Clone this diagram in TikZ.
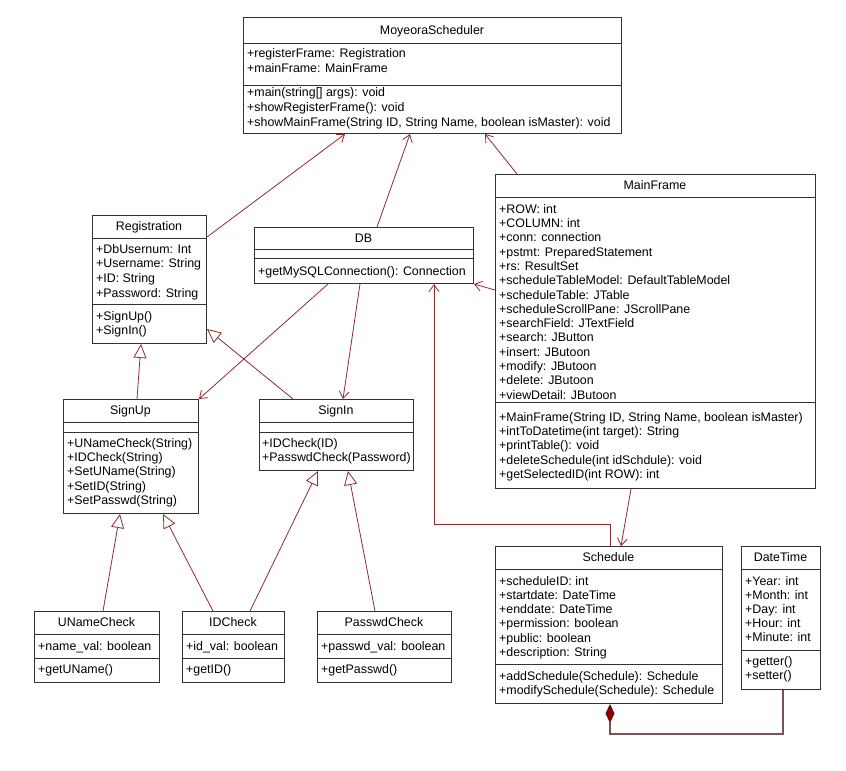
\documentclass[tikz,border=0pt]{standalone}
\usepackage{fontspec}
\setmainfont{Liberation Sans}
\usetikzlibrary{arrows.meta}

\definecolor{umlline}{RGB}{140,45,45}
\definecolor{umlcomp}{RGB}{120,85,85}
\definecolor{umldiam}{RGB}{130,0,0}

\begin{document}
\begin{tikzpicture}[x=1pt,y=-1pt,
  classbox/.style={draw=black!80, line width=1pt, rectangle, inner sep=0pt, anchor=north west},
  sepline/.style={draw=black!80, line width=1pt},
  row/.style={anchor=west, inner sep=0pt, text height=10pt, text depth=1.5pt, font=\fontsize{12.4}{14}\selectfont},
  title/.style={row, anchor=center},
  assoc/.style={draw=umlline, line width=0.8pt, -{Straight Barb[length=7pt,width=10pt]}},
  gen/.style={draw=umlline, line width=0.8pt, -{Triangle[open, fill=white, length=14pt, width=13pt]}},
  comp/.style={draw=umlcomp, line width=1.2pt, -{Diamond[color=umldiam, fill=umldiam, length=19pt, width=9pt]}}
]
  \fill[white] (0,0) rectangle (846,771);
  \useasboundingbox (0,0) rectangle (846,771);

  % MoyeoraScheduler
  \node[classbox, minimum width=378pt, minimum height=116pt] (ms) at (243,17) {};
  \draw[sepline] (243,43) -- (621,43);
  \draw[sepline] (243,85) -- (621,85);
  \node[title] (ms-t) at (432,30) {MoyeoraScheduler};
  \foreach \t [count=\i from 0] in {+registerFrame: Registration, +mainFrame: MainFrame}
    \node[row] (ms-a\i) at (247,53+15*\i) {\t};
  \foreach \t [count=\i from 0] in {+main(string[] args): void, +showRegisterFrame(): void,
      {+showMainFrame(String ID, String Name, boolean isMaster): void}}
    \node[row] (ms-m\i) at (247,92+15*\i) {\t};

  % Registration
  \node[classbox, minimum width=114pt, minimum height=128pt] (reg) at (92,215) {};
  \draw[sepline] (92,238) -- (206,238);
  \draw[sepline] (92,304) -- (206,304);
  \node[title] (reg-t) at (149,226.5) {Registration};
  \foreach \t [count=\i from 0] in {+DbUsernum: Int, +Username: String, +ID: String, +Password: String}
    \node[row] (reg-a\i) at (96,249+14.7*\i) {\t};
  \foreach \t [count=\i from 0] in {+SignUp(), +SignIn()}
    \node[row] (reg-m\i) at (96,316+14.5*\i) {\t};

  % DB
  \node[classbox, minimum width=219pt, minimum height=56pt] (db) at (254,227) {};
  \draw[sepline] (254,249) -- (473,249);
  \draw[sepline] (254,258) -- (473,258);
  \node[title] (db-t) at (363.5,238) {DB};
  \node[row] (db-m0) at (258,271) {+getMySQLConnection(): Connection};

  % MainFrame
  \node[classbox, minimum width=320pt, minimum height=314pt] (mf) at (495,174) {};
  \draw[sepline] (495,197) -- (815,197);
  \draw[sepline] (495,402) -- (815,402);
  \node[title] (mf-t) at (655,185.5) {MainFrame};
  \foreach \t [count=\i from 0] in {+ROW: int, +COLUMN: int, +conn: connection,
      +pstmt: PreparedStatement, +rs: ResultSet, +scheduleTableModel: DefaultTableModel,
      +scheduleTable: JTable, +scheduleScrollPane: JScrollPane, +searchField: JTextField,
      +search: JButton, +insert: JButoon, +modify: JButoon, +delete: JButoon, +viewDetail: JButoon}
    \node[row] (mf-a\i) at (499,209+14.3*\i) {\t};
  \foreach \t [count=\i from 0] in {{+MainFrame(String ID, String Name, boolean isMaster)},
      +intToDatetime(int target): String, +printTable(): void,
      +deleteSchedule(int idSchdule): void, +getSelectedID(int ROW): int}
    \node[row] (mf-m\i) at (499,417+14.25*\i) {\t};

  % SignUp
  \node[classbox, minimum width=135pt, minimum height=114pt] (su) at (63,399) {};
  \draw[sepline] (63,422) -- (198,422);
  \draw[sepline] (63,432) -- (198,432);
  \node[title] (su-t) at (130.5,410.5) {SignUp};
  \foreach \t [count=\i from 0] in {+UNameCheck(String), +IDCheck(String), +SetUName(String),
      +SetID(String), +SetPasswd(String)}
    \node[row] (su-m\i) at (67,443+14.25*\i) {\t};

  % SignIn
  \node[classbox, minimum width=154pt, minimum height=71pt] (si) at (259,399) {};
  \draw[sepline] (259,422) -- (413,422);
  \draw[sepline] (259,432) -- (413,432);
  \node[title] (si-t) at (336,410.5) {SignIn};
  \foreach \t [count=\i from 0] in {+IDCheck(ID), +PasswdCheck(Password)}
    \node[row] (si-m\i) at (262,443+14.25*\i) {\t};

  % UNameCheck, IDCheck, PasswdCheck
  \node[classbox, minimum width=125pt, minimum height=71pt] (un) at (34,611) {};
  \draw[sepline] (34,634) -- (159,634);
  \draw[sepline] (34,658) -- (159,658);
  \node[title] (un-t) at (96.5,622.5) {UNameCheck};
  \node[row] (un-a0) at (38,646) {+name\_val: boolean};
  \node[row] (un-m0) at (38,669.5) {+getUName()};

  \node[classbox, minimum width=102pt, minimum height=71pt] (idc) at (182,611) {};
  \draw[sepline] (182,634) -- (284,634);
  \draw[sepline] (182,658) -- (284,658);
  \node[title] (idc-t) at (233,622.5) {IDCheck};
  \node[row] (idc-a0) at (186,646) {+id\_val: boolean};
  \node[row] (idc-m0) at (186,669.5) {+getID()};

  \node[classbox, minimum width=134pt, minimum height=71pt] (pw) at (317,611) {};
  \draw[sepline] (317,634) -- (451,634);
  \draw[sepline] (317,658) -- (451,658);
  \node[title] (pw-t) at (384,622.5) {PasswdCheck};
  \node[row] (pw-a0) at (321,646) {+passwd\_val: boolean};
  \node[row] (pw-m0) at (321,669.5) {+getPasswd()};

  % Schedule
  \node[classbox, minimum width=227pt, minimum height=157pt] (sch) at (495,546) {};
  \draw[sepline] (495,569) -- (722,569);
  \draw[sepline] (495,664) -- (722,664);
  \node[title] (sch-t) at (608.5,557.5) {Schedule};
  \foreach \t [count=\i from 0] in {+scheduleID: int, +startdate: DateTime, +enddate: DateTime,
      +permission: boolean, +public: boolean, +description: String}
    \node[row] (sch-a\i) at (499,581+14.2*\i) {\t};
  \foreach \t [count=\i from 0] in {+addSchedule(Schedule): Schedule, +modifySchedule(Schedule): Schedule}
    \node[row] (sch-m\i) at (499,676+14*\i) {\t};

  % DateTime
  \node[classbox, minimum width=79pt, minimum height=143pt] (dt) at (741,546) {};
  \draw[sepline] (741,569) -- (820,569);
  \draw[sepline] (741,650) -- (820,650);
  \node[title] (dt-t) at (780.5,557.5) {DateTime};
  \foreach \t [count=\i from 0] in {+Year: int, +Month: int, +Day: int, +Hour: int, +Minute: int}
    \node[row] (dt-a\i) at (745,581+14*\i) {\t};
  \foreach \t [count=\i from 0] in {+getter(), +setter()}
    \node[row] (dt-m\i) at (745,661+14*\i) {\t};

  % associations
  \draw[assoc] ([yshift=-22pt]reg.north east) -- ([xshift=102pt]ms.south west);
  \draw[assoc] ([xshift=123pt]db.north west) -- ([xshift=167pt]ms.south west);
  \draw[assoc] ([xshift=22pt]mf.north west) -- ([xshift=242pt]ms.south west);
  \draw[assoc] ([yshift=-116pt]mf.north west) -- (db.south east);
  \draw[assoc] ([xshift=115pt]sch.north west) -- ++(0,-22) -| ([xshift=180pt]db.south west);
  \draw[assoc] ([xshift=136pt]mf.south west) -- ([xshift=126pt]sch.north west);
  \draw[assoc] ([xshift=74pt]db.south west) -- (su.north east);
  \draw[assoc] ([xshift=106pt]db.south west) -- ([xshift=84pt]si.north west);

  % generalizations
  \draw[gen] ([xshift=74pt]su.north west) -- ([xshift=49pt]reg.south west);
  \draw[gen] ([xshift=34pt]si.north west) -- ([yshift=15pt]reg.south east);
  \draw[gen] ([xshift=69pt]un.north west) -- ([xshift=57pt]su.south west);
  \draw[gen] ([xshift=31pt]idc.north west) -- ([xshift=100pt]su.south west);
  \draw[gen] ([xshift=68pt]idc.north west) -- ([xshift=59pt]si.south west);
  \draw[gen] ([xshift=58pt]pw.north west) -- ([xshift=89pt]si.south west);

  % composition
  \draw[comp] ([xshift=42pt]dt.south west) -- ++(0,44) -| ([xshift=115pt]sch.south west);
\end{tikzpicture}
\end{document}
